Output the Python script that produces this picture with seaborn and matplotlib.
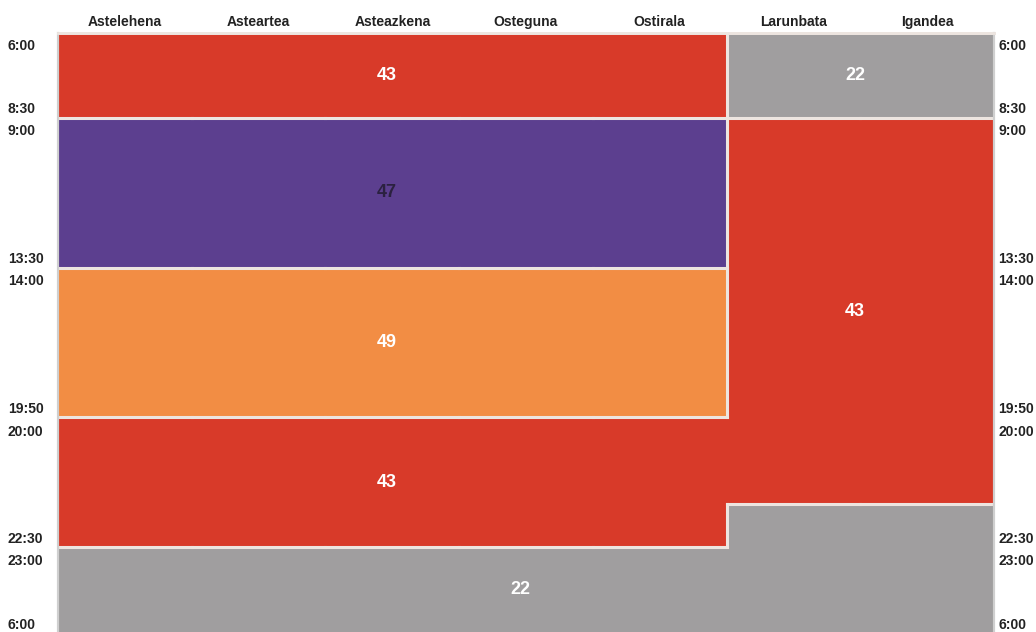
import numpy as np
import matplotlib
matplotlib.use('Agg')
import matplotlib.pyplot as plt
import seaborn as sns

sns.set_theme(style='white')
plt.rcParams['font.family'] = ['Liberation Sans', 'DejaVu Sans']

days = ['Astelehena', 'Asteartea', 'Asteazkena', 'Osteguna', 'Ostirala', 'Larunbata', 'Igandea']

# time labels and the (schematic) row where each one sits
time_labels = ['6:00', '8:30', '9:00', '13:30', '14:00', '19:50', '20:00', '22:30', '23:00', '6:00']
time_rows = [12, 75, 97, 225, 247, 375, 398, 505, 527, 591]

# blocks: first day, number of days, top row, bottom row, region id
block_day0 = [0, 5, 0, 0, 0, 5, 0, 5]
block_ndays = [5, 2, 5, 5, 5, 2, 5, 2]
block_top = [0, 0, 85, 235, 385, 85, 515, 472]
block_bottom = [85, 85, 235, 385, 515, 472, 600, 600]
block_region = [0, 1, 2, 3, 4, 4, 5, 5]

# one label per group of blocks
block_group = [0, 1, 2, 3, 4, 5, 6, 6]
group_value = [43, 22, 47, 49, 43, 43, 22]

region_colors = ['#d83a29', '#a09e9f', '#5c3f8f', '#f28d44', '#d83a29', '#a09e9f']
group_text_colors = ['white', 'white', '#2b2140', 'white', 'white', 'white', 'white']
gap_color = '#ede5e0'

fig = plt.figure(figsize=(10.36, 6.32), dpi=100)
ax = fig.add_axes([58 / 1036, 0, 936 / 1036, 1 - 33 / 632])

# blocks
for i in range(len(block_top)):
    ax.bar(block_day0[i], block_bottom[i] - block_top[i], width=block_ndays[i],
           bottom=block_top[i], align='edge', color=region_colors[block_region[i]],
           linewidth=0, zorder=1)

# separator lines between different regions
ys = sorted(set(block_top + block_bottom))
grid = np.full((len(ys) - 1, 7), -1)
for i in range(len(block_top)):
    for r in range(len(ys) - 1):
        if ys[r] >= block_top[i] and ys[r + 1] <= block_bottom[i]:
            grid[r, block_day0[i]:block_day0[i] + block_ndays[i]] = block_region[i]

for r in range(1, len(ys) - 1):
    for c in range(7):
        if grid[r - 1, c] != grid[r, c]:
            ax.plot([c, c + 1], [ys[r], ys[r]], color=gap_color, lw=2.2,
                    solid_capstyle='projecting', zorder=2)
for r in range(len(ys) - 1):
    for c in range(1, 7):
        if grid[r, c - 1] != grid[r, c]:
            ax.plot([c, c], [ys[r], ys[r + 1]], color=gap_color, lw=2.2,
                    solid_capstyle='projecting', zorder=2)

# value labels
for g in range(len(group_value)):
    idx = [i for i in range(len(block_group)) if block_group[i] == g]
    x0 = min(block_day0[i] for i in idx)
    x1 = max(block_day0[i] + block_ndays[i] for i in idx)
    y_mid = (block_top[idx[0]] + block_bottom[idx[0]]) / 2
    ax.text((x0 + x1) / 2 - 0.04, y_mid, str(group_value[g]), ha='center', va='center',
            fontsize=13, fontweight='bold', color=group_text_colors[g], zorder=3)

ax.set_xlim(0, 7)
ax.set_ylim(600, 0)

# day names on top
ax.set_xticks(np.arange(len(days)) + 0.5)
ax.set_xticklabels(days, fontsize=10, fontweight='bold', color='#222222')
ax.xaxis.tick_top()
ax.tick_params(axis='x', length=0, pad=3)

# time labels left and right
ax.set_yticks(time_rows)
ax.set_yticklabels(time_labels, fontsize=10, fontweight='bold', color='#222222', ha='left')
ax.tick_params(axis='y', length=0, pad=36)

ax2 = ax.twinx()
ax2.set_ylim(600, 0)
ax2.set_yticks(time_rows)
ax2.set_yticklabels(time_labels, fontsize=10, fontweight='bold', color='#222222')
ax2.tick_params(axis='y', length=0, pad=3)

for a in (ax, ax2):
    a.spines['bottom'].set_visible(False)
    a.spines['top'].set_color(gap_color)
    a.spines['top'].set_linewidth(2)
    a.spines['left'].set_color('#cfcfcf')
    a.spines['right'].set_color('#cfcfcf')
    a.spines['left'].set_linewidth(1.5)
    a.spines['right'].set_linewidth(1.5)
ax.grid(False)
ax2.grid(False)

fig.savefig('out.png', dpi=100)
